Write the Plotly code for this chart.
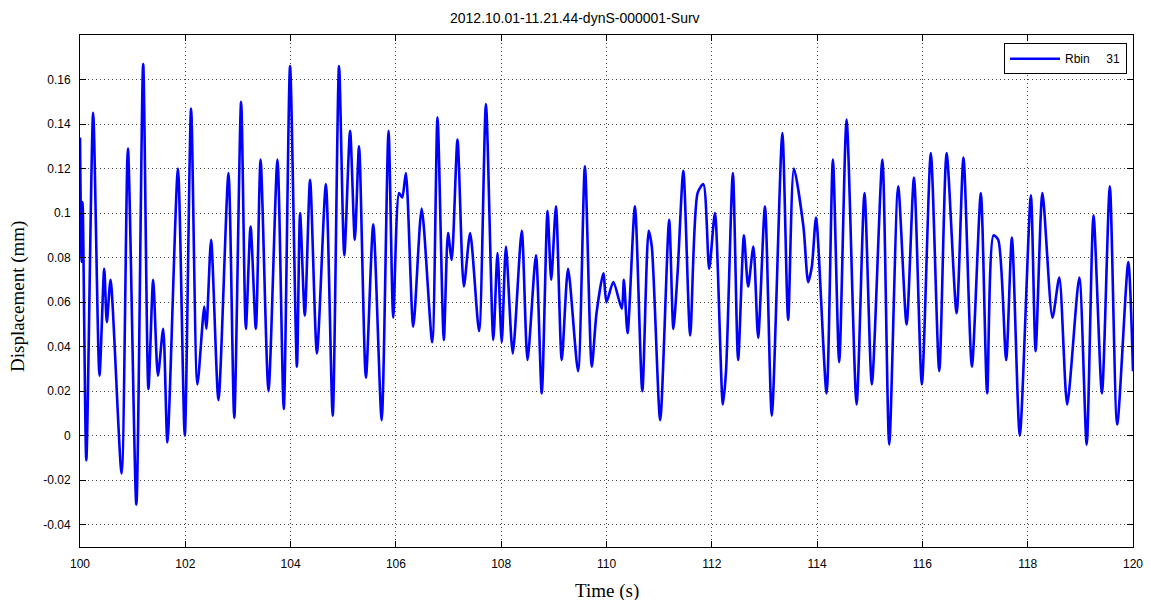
import plotly.graph_objects as go

title_text = "2012.10.01-11.21.44-dynS-000001-Surv"
series_name = "Rbin\u00a0\u00a0\u00a0\u00a0\u00a031"

time_s = [
    100.00, 100.03, 100.05, 100.12, 100.25, 100.37, 100.46, 100.51, 100.58, 100.79,
    100.91, 101.07, 101.20, 101.30, 101.39, 101.48, 101.58, 101.66, 101.86, 101.99,
    102.11, 102.23, 102.36, 102.40, 102.49, 102.63, 102.82, 102.93, 103.06, 103.15,
    103.24, 103.34, 103.43, 103.58, 103.75, 103.87, 103.99, 104.12, 104.18, 104.27,
    104.37, 104.50, 104.67, 104.80, 104.92, 105.02, 105.13, 105.22, 105.30, 105.43,
    105.57, 105.73, 105.86, 105.95, 106.06, 106.12, 106.19, 106.33, 106.49, 106.69,
    106.79, 106.91, 106.99, 107.06, 107.17, 107.29, 107.41, 107.58, 107.71, 107.85,
    107.93, 108.01, 108.09, 108.22, 108.39, 108.50, 108.66, 108.77, 108.88, 108.95,
    109.04, 109.15, 109.27, 109.46, 109.59, 109.72, 109.81, 109.94, 110.00, 110.13,
    110.29, 110.33, 110.40, 110.54, 110.68, 110.80, 110.86, 111.02, 111.19, 111.27,
    111.35, 111.46, 111.59, 111.73, 111.84, 111.95, 112.06, 112.21, 112.27, 112.40,
    112.50, 112.61, 112.69, 112.79, 112.88, 113.01, 113.14, 113.34, 113.45, 113.56,
    113.74, 113.83, 113.90, 113.98, 114.18, 114.30, 114.42, 114.56, 114.75, 114.90,
    115.04, 115.24, 115.37, 115.54, 115.70, 115.84, 115.99, 116.16, 116.32, 116.46,
    116.65, 116.78, 116.94, 117.11, 117.23, 117.35, 117.44, 117.59, 117.70, 117.85,
    118.06, 118.15, 118.28, 118.47, 118.60, 118.75, 118.98, 119.12, 119.25, 119.41,
    119.56, 119.70, 119.91, 120.00,
]

displacement_mm = [
    0.134, 0.078, 0.105, -0.011, 0.145, 0.027, 0.075, 0.051, 0.070, -0.017,
    0.129, -0.031, 0.167, 0.021, 0.070, 0.027, 0.048, -0.003, 0.120, 0.000,
    0.147, 0.023, 0.058, 0.048, 0.088, 0.016, 0.118, 0.008, 0.150, 0.048,
    0.094, 0.048, 0.124, 0.020, 0.124, 0.012, 0.166, 0.031, 0.100, 0.054,
    0.115, 0.037, 0.113, 0.009, 0.166, 0.081, 0.137, 0.088, 0.130, 0.026,
    0.095, 0.007, 0.137, 0.053, 0.109, 0.107, 0.118, 0.049, 0.102, 0.042,
    0.143, 0.043, 0.091, 0.079, 0.133, 0.067, 0.091, 0.047, 0.149, 0.043,
    0.082, 0.042, 0.085, 0.037, 0.092, 0.034, 0.081, 0.019, 0.101, 0.070,
    0.103, 0.034, 0.075, 0.029, 0.121, 0.031, 0.055, 0.073, 0.060, 0.069,
    0.057, 0.070, 0.046, 0.103, 0.020, 0.092, 0.085, 0.007, 0.097, 0.048,
    0.073, 0.119, 0.045, 0.109, 0.113, 0.075, 0.100, 0.014, 0.029, 0.118,
    0.034, 0.090, 0.067, 0.085, 0.044, 0.103, 0.009, 0.136, 0.052, 0.120,
    0.094, 0.069, 0.076, 0.098, 0.019, 0.124, 0.033, 0.142, 0.014, 0.109,
    0.023, 0.124, -0.004, 0.112, 0.050, 0.116, 0.023, 0.127, 0.029, 0.127,
    0.055, 0.125, 0.031, 0.109, 0.019, 0.090, 0.088, 0.034, 0.089, 0.000,
    0.108, 0.038, 0.109, 0.053, 0.071, 0.014, 0.071, -0.004, 0.099, 0.019,
    0.112, 0.005, 0.078, 0.029,
]

x_ticks = [100, 102, 104, 106, 108, 110, 112, 114, 116, 118, 120]
y_ticks = [-0.04, -0.02, 0, 0.02, 0.04, 0.06, 0.08, 0.10, 0.12, 0.14, 0.16]
y_tick_labels = ["-0.04", "-0.02", "0", "0.02", "0.04", "0.06", "0.08", "0.1", "0.12", "0.14", "0.16"]

fig = go.Figure()
fig.add_trace(go.Scatter(
    x=time_s, y=displacement_mm, mode="lines", name=series_name,
    line=dict(color="#0000FF", width=2.6, shape="spline", smoothing=0.7),
))

axis_common = dict(
    showline=True, linecolor="black", linewidth=1, mirror="ticks",
    ticks="inside", ticklen=6, tickcolor="black", tickwidth=1,
    showgrid=True, gridcolor="#444444", gridwidth=1, griddash="1px,3px",
    zeroline=False, tickfont=dict(family="Liberation Sans, Arial", size=12, color="black"),
)

fig.update_layout(
    width=1151, height=600,
    margin=dict(l=72, r=26, t=27, b=61),
    paper_bgcolor="white", plot_bgcolor="white",
    font=dict(family="Liberation Sans, Arial", size=12, color="black"),
    xaxis=dict(range=[100, 120], tickvals=x_ticks, ticklabelstandoff=6, **axis_common),
    yaxis=dict(range=[-0.05, 0.18], tickvals=y_ticks, ticktext=y_tick_labels,
               ticklabelstandoff=6, **axis_common),
    showlegend=True,
    legend=dict(
        x=0.9943, y=0.984, xanchor="right", yanchor="top",
        bgcolor="white", bordercolor="black", borderwidth=1, itemwidth=50,
        font=dict(family="Liberation Sans, Arial", size=12, color="black"),
    ),
    annotations=[
        dict(text=title_text, xref="paper", yref="paper", x=0.47, y=1.033,
             xanchor="center", yanchor="middle", showarrow=False,
             font=dict(family="Liberation Sans Narrow, Liberation Sans, Arial", size=14, color="black")),
        dict(text="Time (s)", xref="paper", yref="paper", x=0.5, y=-0.086,
             xanchor="center", yanchor="middle", showarrow=False,
             font=dict(family="Liberation Serif, Times New Roman", size=19, color="black")),
        dict(text="Displacement (mm)", xref="paper", yref="paper", x=-0.059, y=0.49,
             xanchor="center", yanchor="middle", showarrow=False, textangle=-90,
             font=dict(family="Liberation Serif, Times New Roman", size=19, color="black")),
    ],
)

fig.write_html("out.html")
